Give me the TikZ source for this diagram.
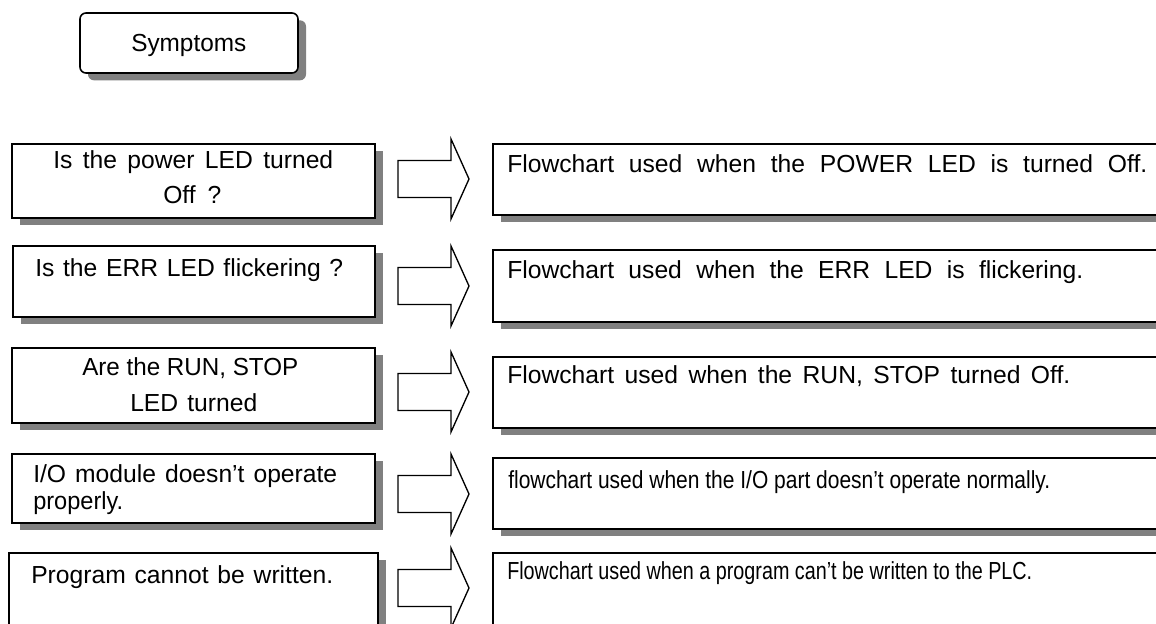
\documentclass[tikz,border=0pt]{standalone}
\usepackage{fontspec}
\setmainfont{Liberation Sans}
\usepackage{graphicx}
\usetikzlibrary{shadows,fit}
\newdimen\pxu \pxu=0.75pt
\newcommand{\fw}[2]{\resizebox{#1\pxu}{\height}{#2}}
\newcommand{\sw}[2]{\makebox[#1\pxu][s]{#2}}
\definecolor{shadowgray}{HTML}{808080}
\begin{document}
\begin{tikzpicture}[x=0.75pt,y=-0.75pt,
  box/.style={draw, line width=1.2pt, fill=white, inner sep=0pt,
    drop shadow={shadow xshift=6pt, shadow yshift=-5.5pt, fill=shadowgray, opacity=1}},
  txt/.style={inner sep=0pt, anchor=base west, font=\fontsize{18.5pt}{22pt}\selectfont},
  blockarrow/.style={draw, line width=1pt, fill=white, line join=miter}]
\useasboundingbox (0,0) rectangle (1156,624);
\clip (0,0) rectangle (1156,624);
\fill[white] (0,0) rectangle (1156,624);

% title
\node[box, rounded corners=4.5pt, fit={(80,13) (298,73)}] (sym) {};
\node[txt] (symt) at (131,52) {\fw{115}{Symptoms}};

% left boxes
\node[box, fit={(12,144) (375,218)}] (L1) {};
\node[box, fit={(13,246) (375,317)}] (L2) {};
\node[box, fit={(12,348) (375,423)}] (L3) {};
\node[box, fit={(12,454) (375,523)}] (L4) {};
\node[box, fit={(9,553) (378,640)}] (L5) {};

% right boxes
\node[box, fit={(493,144) (1175,215)}] (R1) {};
\node[box, fit={(493,250) (1175,322)}] (R2) {};
\node[box, fit={(493,357) (1175,428)}] (R3) {};
\node[box, fit={(493,458) (1175,529)}] (R4) {};
\node[box, fit={(493,553) (1175,640)}] (R5) {};

% block arrows
\foreach \ty/\n in {179/1,286/2,392/3,494/4,588/5}{
  \coordinate (A\n) at (398,\ty);
  \draw[blockarrow] (398,\ty-18.5) -- (451,\ty-18.5) -- (451,\ty-40) -- (469,\ty)
    -- (451,\ty+40) -- (451,\ty+18.5) -- (398,\ty+18.5) -- cycle;
}

% left texts
\node[txt] (l1a) at (53,169) {\sw{280}{Is the power LED turned}};
\node[txt] (l1b) at (163,204) {\sw{58}{Off ?}};
\node[txt] (l2) at (35,276) {\sw{308}{Is the ERR LED flickering ?}};
\node[txt] (l3a) at (82,375) {\fw{216}{Are the RUN, STOP}};
\node[txt] (l3b) at (130,411) {\sw{127}{LED turned}};
\node[txt] (l4a) at (33,482) {\sw{304}{I/O module doesn’t operate}};
\node[txt] (l4b) at (33,509) {\fw{90}{properly.}};
\node[txt] (l5) at (31,583) {\sw{302}{Program cannot be written.}};

% right texts
\node[txt] (r1) at (507,173) {\sw{640}{Flowchart used when the POWER LED is turned Off.}};
\node[txt] (r2) at (507,278) {\sw{576}{Flowchart used when the ERR LED is flickering.}};
\node[txt] (r3) at (507,383) {\sw{563}{Flowchart used when the RUN, STOP turned Off.}};
\node[txt] (r4) at (508,488) {\fw{542}{flowchart used when the I/O part doesn’t operate normally.}};
\node[txt] (r5) at (507,579) {\fw{525}{Flowchart used when a program can’t be written to the PLC.}};
\end{tikzpicture}
\end{document}
